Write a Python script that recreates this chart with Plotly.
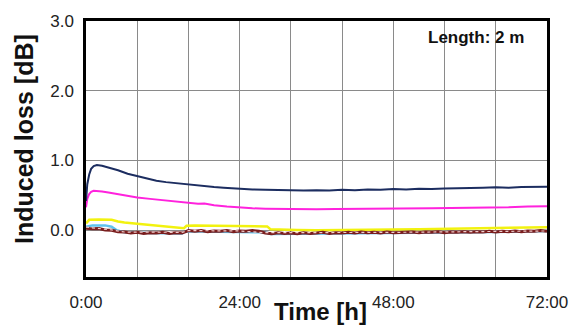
import plotly.graph_objects as go

# ---- data ----
t_navy = [0, 0.2, 0.5, 0.8, 1.2, 1.7, 2.5, 3.5, 5, 6.5, 8, 9.5, 11, 12.5, 14, 15.5, 17, 18.5, 20, 21.5, 23, 24.5, 26,
          28, 30, 32, 34, 36, 38, 40, 42, 44, 46, 48, 50, 52, 54, 56, 58, 60, 62, 64, 66, 68, 70, 72]
v_navy = [0.42, 0.66, 0.80, 0.88, 0.92, 0.935, 0.925, 0.90, 0.86, 0.81, 0.775, 0.745, 0.71, 0.69, 0.675, 0.655, 0.645,
          0.63, 0.62, 0.61, 0.60, 0.595, 0.585,
          0.58, 0.575, 0.58, 0.57, 0.575, 0.57, 0.58, 0.575, 0.585, 0.58, 0.59, 0.585, 0.595, 0.59, 0.60, 0.60, 0.605,
          0.61, 0.615, 0.61, 0.62, 0.625, 0.625]

t_mag = [0, 0.2, 0.5, 0.8, 1.2, 1.7, 2.5, 3.5, 5, 6.5, 8, 10, 12, 14, 16, 17.5, 18.5, 20, 22, 24, 26, 28, 30,
         33, 36, 39, 42, 45, 48, 51, 54, 57, 60, 63, 66, 69, 72]
v_mag = [0.33, 0.45, 0.52, 0.55, 0.565, 0.565, 0.555, 0.54, 0.515, 0.49, 0.47, 0.45, 0.43, 0.41, 0.39, 0.38, 0.385,
         0.36, 0.34, 0.325, 0.315, 0.31, 0.305,
         0.305, 0.30, 0.305, 0.305, 0.31, 0.31, 0.31, 0.315, 0.32, 0.32, 0.325, 0.33, 0.34, 0.345]

t_yel = [0, 0.5, 2, 4, 5, 6, 8, 10, 12, 14, 15.3, 15.7, 17, 20, 24, 27, 28.3, 28.8, 30, 33,
         36, 40, 44, 48, 52, 56, 60, 64, 68, 72]
v_yel = [0.10, 0.15, 0.155, 0.15, 0.125, 0.11, 0.095, 0.08, 0.065, 0.045, 0.03, 0.065, 0.07, 0.065, 0.06, 0.06,
         0.055, 0.015, 0.01, 0.005, 0.0, 0.0, 0.005, 0.01, 0.015, 0.02, 0.02, 0.03, 0.035, 0.045]

t_cyan = [0, 1, 3, 4, 4.8, 6, 10, 15, 15.5, 20, 24, 28, 28.8, 36, 48, 60, 72]
v_cyan = [0.05, 0.07, 0.07, 0.05, 0.0, -0.03, -0.04, -0.045, -0.015, -0.02, -0.025, -0.03, -0.055, -0.05, -0.04,
          -0.03, -0.01]

t_brown = list(range(73))
v_brown = [0.03, 0.02, 0.025, 0.005, 0.0, -0.02, -0.025, -0.04, -0.03, -0.045, -0.035, -0.04, -0.03, -0.045, -0.035,
           -0.04,
           -0.005, -0.015, -0.005, -0.02, -0.01, -0.015, -0.005, -0.02, -0.01, -0.015, -0.005, -0.015,
           -0.04, -0.05, -0.035, -0.045, -0.04, -0.05, -0.035, -0.045, -0.04, -0.03, -0.045, -0.035,
           -0.04, -0.03, -0.04, -0.025, -0.035, -0.03, -0.04, -0.025, -0.035, -0.03, -0.035, -0.025,
           -0.035, -0.025, -0.03, -0.02, -0.035, -0.025, -0.03, -0.02, -0.03, -0.02, -0.025, -0.015,
           -0.025, -0.015, -0.02, -0.01, -0.02, -0.01, -0.015, -0.005, -0.015]

t_pink = [0, 2, 4, 6, 10, 15, 16, 24, 28, 36, 48, 60, 72]
v_pink = [0.045, 0.03, 0.005, -0.025, -0.03, -0.03, -0.005, -0.01, -0.035, -0.035, -0.03, -0.02, -0.01]

x_grid = [0, 8, 16, 24, 32, 40, 48, 56, 64, 72]
x_labels = ["0:00", "", "", "24:00", "", "", "48:00", "", "", "72:00"]
y_ticks = [0, 1, 2, 3]
y_labels = ["0.0", "1.0", "2.0", "3.0"]

FONT = "Liberation Sans, Arial, sans-serif"

fig = go.Figure()
fig.add_trace(go.Scatter(x=t_cyan, y=v_cyan, mode="lines", line=dict(color="#5fc3ee", width=2.5)))
fig.add_trace(go.Scatter(x=t_yel, y=v_yel, mode="lines", line=dict(color="#f2f20f", width=2.5)))
fig.add_trace(go.Scatter(x=t_brown, y=v_brown, mode="lines", line=dict(color="#7a1e1e", width=3)))
fig.add_trace(go.Scatter(x=t_pink, y=v_pink, mode="lines", line=dict(color="#f0cccc", width=1.2, dash="dot")))
fig.add_trace(go.Scatter(x=t_mag, y=v_mag, mode="lines", line=dict(color="#ff22dd", width=2)))
fig.add_trace(go.Scatter(x=t_navy, y=v_navy, mode="lines", line=dict(color="#1c2d60", width=2)))

fig.update_layout(
    width=580, height=330,
    margin=dict(l=86, r=26, t=19, b=53),
    paper_bgcolor="white", plot_bgcolor="white",
    showlegend=False,
    font=dict(family=FONT, color="#222222"),
    xaxis=dict(range=[0, 72], tickvals=x_grid, ticktext=x_labels, showgrid=True,
               gridcolor="#8a8a8a", gridwidth=1, showline=True, linecolor="black", linewidth=2.5,
               mirror=True, ticks="", tickfont=dict(size=17, family=FONT, color="#222222"),
               ticklabelstandoff=8, zeroline=False),
    yaxis=dict(range=[-0.67, 3.0], tickvals=y_ticks, ticktext=y_labels, showgrid=True,
               gridcolor="#8a8a8a", gridwidth=1, showline=True, linecolor="black", linewidth=2.5,
               mirror=True, ticks="", tickfont=dict(size=17, family=FONT, color="#222222"),
               ticklabelstandoff=6, zeroline=False),
    shapes=[dict(type="rect", xref="x", yref="y", x0=50.5, x1=72, y0=2.46, y1=3.0,
                 fillcolor="white", line=dict(width=0), layer="below")],
    annotations=[
        dict(text="<b>Length: 2 m</b>", xref="paper", yref="paper", x=0.845, y=0.936,
             xanchor="center", yanchor="middle", showarrow=False,
             font=dict(size=17, family=FONT, color="#111111")),
        dict(text="<b>Time [h]</b>", xref="paper", yref="paper", x=0.5096, y=-0.135,
             xanchor="center", yanchor="middle", showarrow=False,
             font=dict(size=24, family=FONT, color="#111111")),
        dict(text="<b>Induced loss [dB]</b>", xref="paper", yref="paper", x=-0.1357, y=0.541,
             xanchor="center", yanchor="middle", showarrow=False, textangle=-90,
             font=dict(size=25, family=FONT, color="#111111")),
    ],
)

fig.write_html("out.html")
